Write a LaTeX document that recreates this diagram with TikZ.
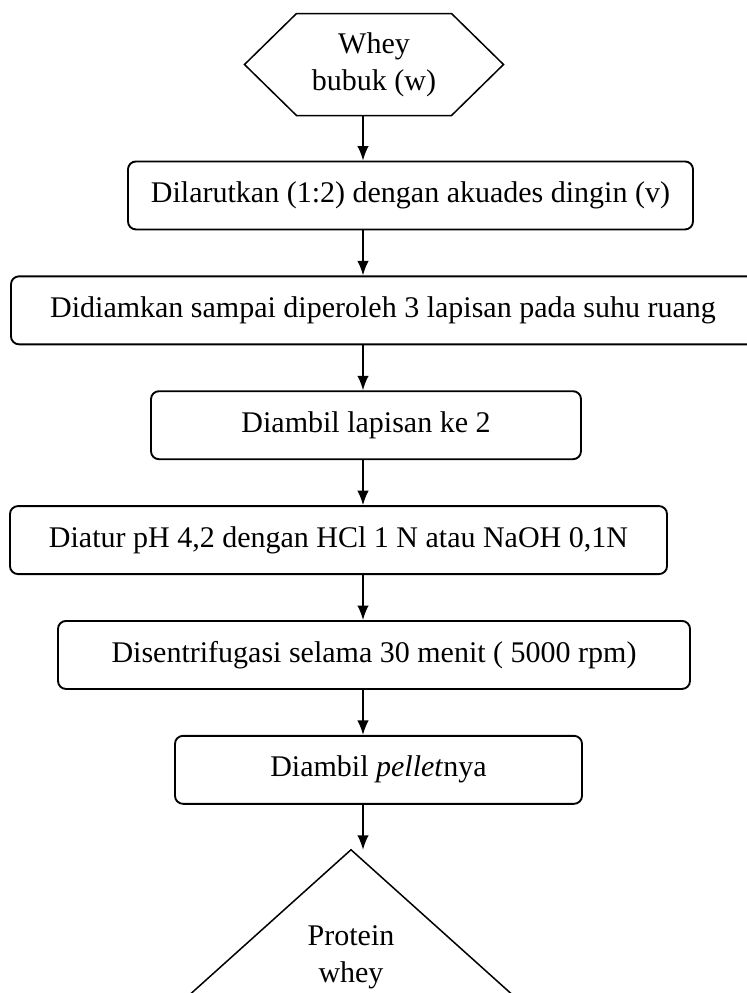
\documentclass[tikz,border=0pt]{standalone}
\usepackage{fontspec}
\setmainfont{Liberation Serif}
\usetikzlibrary{arrows.meta,positioning}

\begin{document}
\begin{tikzpicture}[>={Latex[length=5.8pt,width=4.6pt]},node distance=18pt,
  every node/.style={font=\fontsize{12pt}{14.8pt}\selectfont},
  proc/.style={draw,line width=0.75pt,rounded corners=3.2pt,minimum height=27.2pt,inner sep=2pt}]
\useasboundingbox (0,0) rectangle (298.4pt,-397.2pt);
\node[minimum width=103.2pt,minimum height=40.4pt,align=center] (whey) at (149.6pt,-25.8pt) {Whey\\bubuk (w)};
\draw[line width=0.6pt] (whey.west) -- ([xshift=20.8pt]whey.north west) -- ([xshift=-20.8pt]whey.north east)
  -- (whey.east) -- ([xshift=-20.8pt]whey.south east) -- ([xshift=20.8pt]whey.south west) -- cycle;
\coordinate (spine) at ([xshift=-4.4pt]whey.south);
\node[proc,minimum width=226pt,below=of whey,xshift=14.6pt] (dil) {Dilarutkan (1:2) dengan akuades dingin (v)};
\node[proc,minimum width=297.6pt,below=of dil,xshift=-11pt] (did) {Didiamkan sampai diperoleh 3 lapisan pada suhu ruang};
\node[proc,minimum width=172pt,below=of did,xshift=-6.8pt] (lap) {Diambil lapisan ke 2};
\node[proc,minimum width=262.8pt,below=of lap,xshift=-11pt] (ph) {Diatur pH 4,2 dengan HCl 1 N atau NaOH 0,1N};
\node[proc,minimum width=252.8pt,below=of ph,xshift=14.2pt] (sen) {Disentrifugasi selama 30 menit ( 5000 rpm)};
\node[proc,minimum width=162.8pt,below=of sen,xshift=1.8pt] (pel) {Diambil \textit{pellet}nya};
\coordinate[below=of pel,xshift=-11pt] (apex);
\node[align=center] (prot) at ([yshift=-43.2pt]apex) {Protein\\whey};
\draw[line width=0.6pt] ([shift={(-75.9pt,-68.2pt)}]apex) -- (apex) -- ([shift={(75.9pt,-68.2pt)}]apex);
% arrows down the spine
\draw[->,line width=0.6pt] (whey.south -| spine) -- (dil.north -| spine);
\draw[->,line width=0.6pt] (dil.south -| spine) -- (did.north -| spine);
\draw[->,line width=0.6pt] (did.south -| spine) -- (lap.north -| spine);
\draw[->,line width=0.6pt] (lap.south -| spine) -- (ph.north -| spine);
\draw[->,line width=0.6pt] (ph.south -| spine) -- (sen.north -| spine);
\draw[->,line width=0.6pt] (sen.south -| spine) -- (pel.north -| spine);
\draw[->,line width=0.6pt] (pel.south -| spine) -- (apex -| spine);
\end{tikzpicture}
\end{document}
